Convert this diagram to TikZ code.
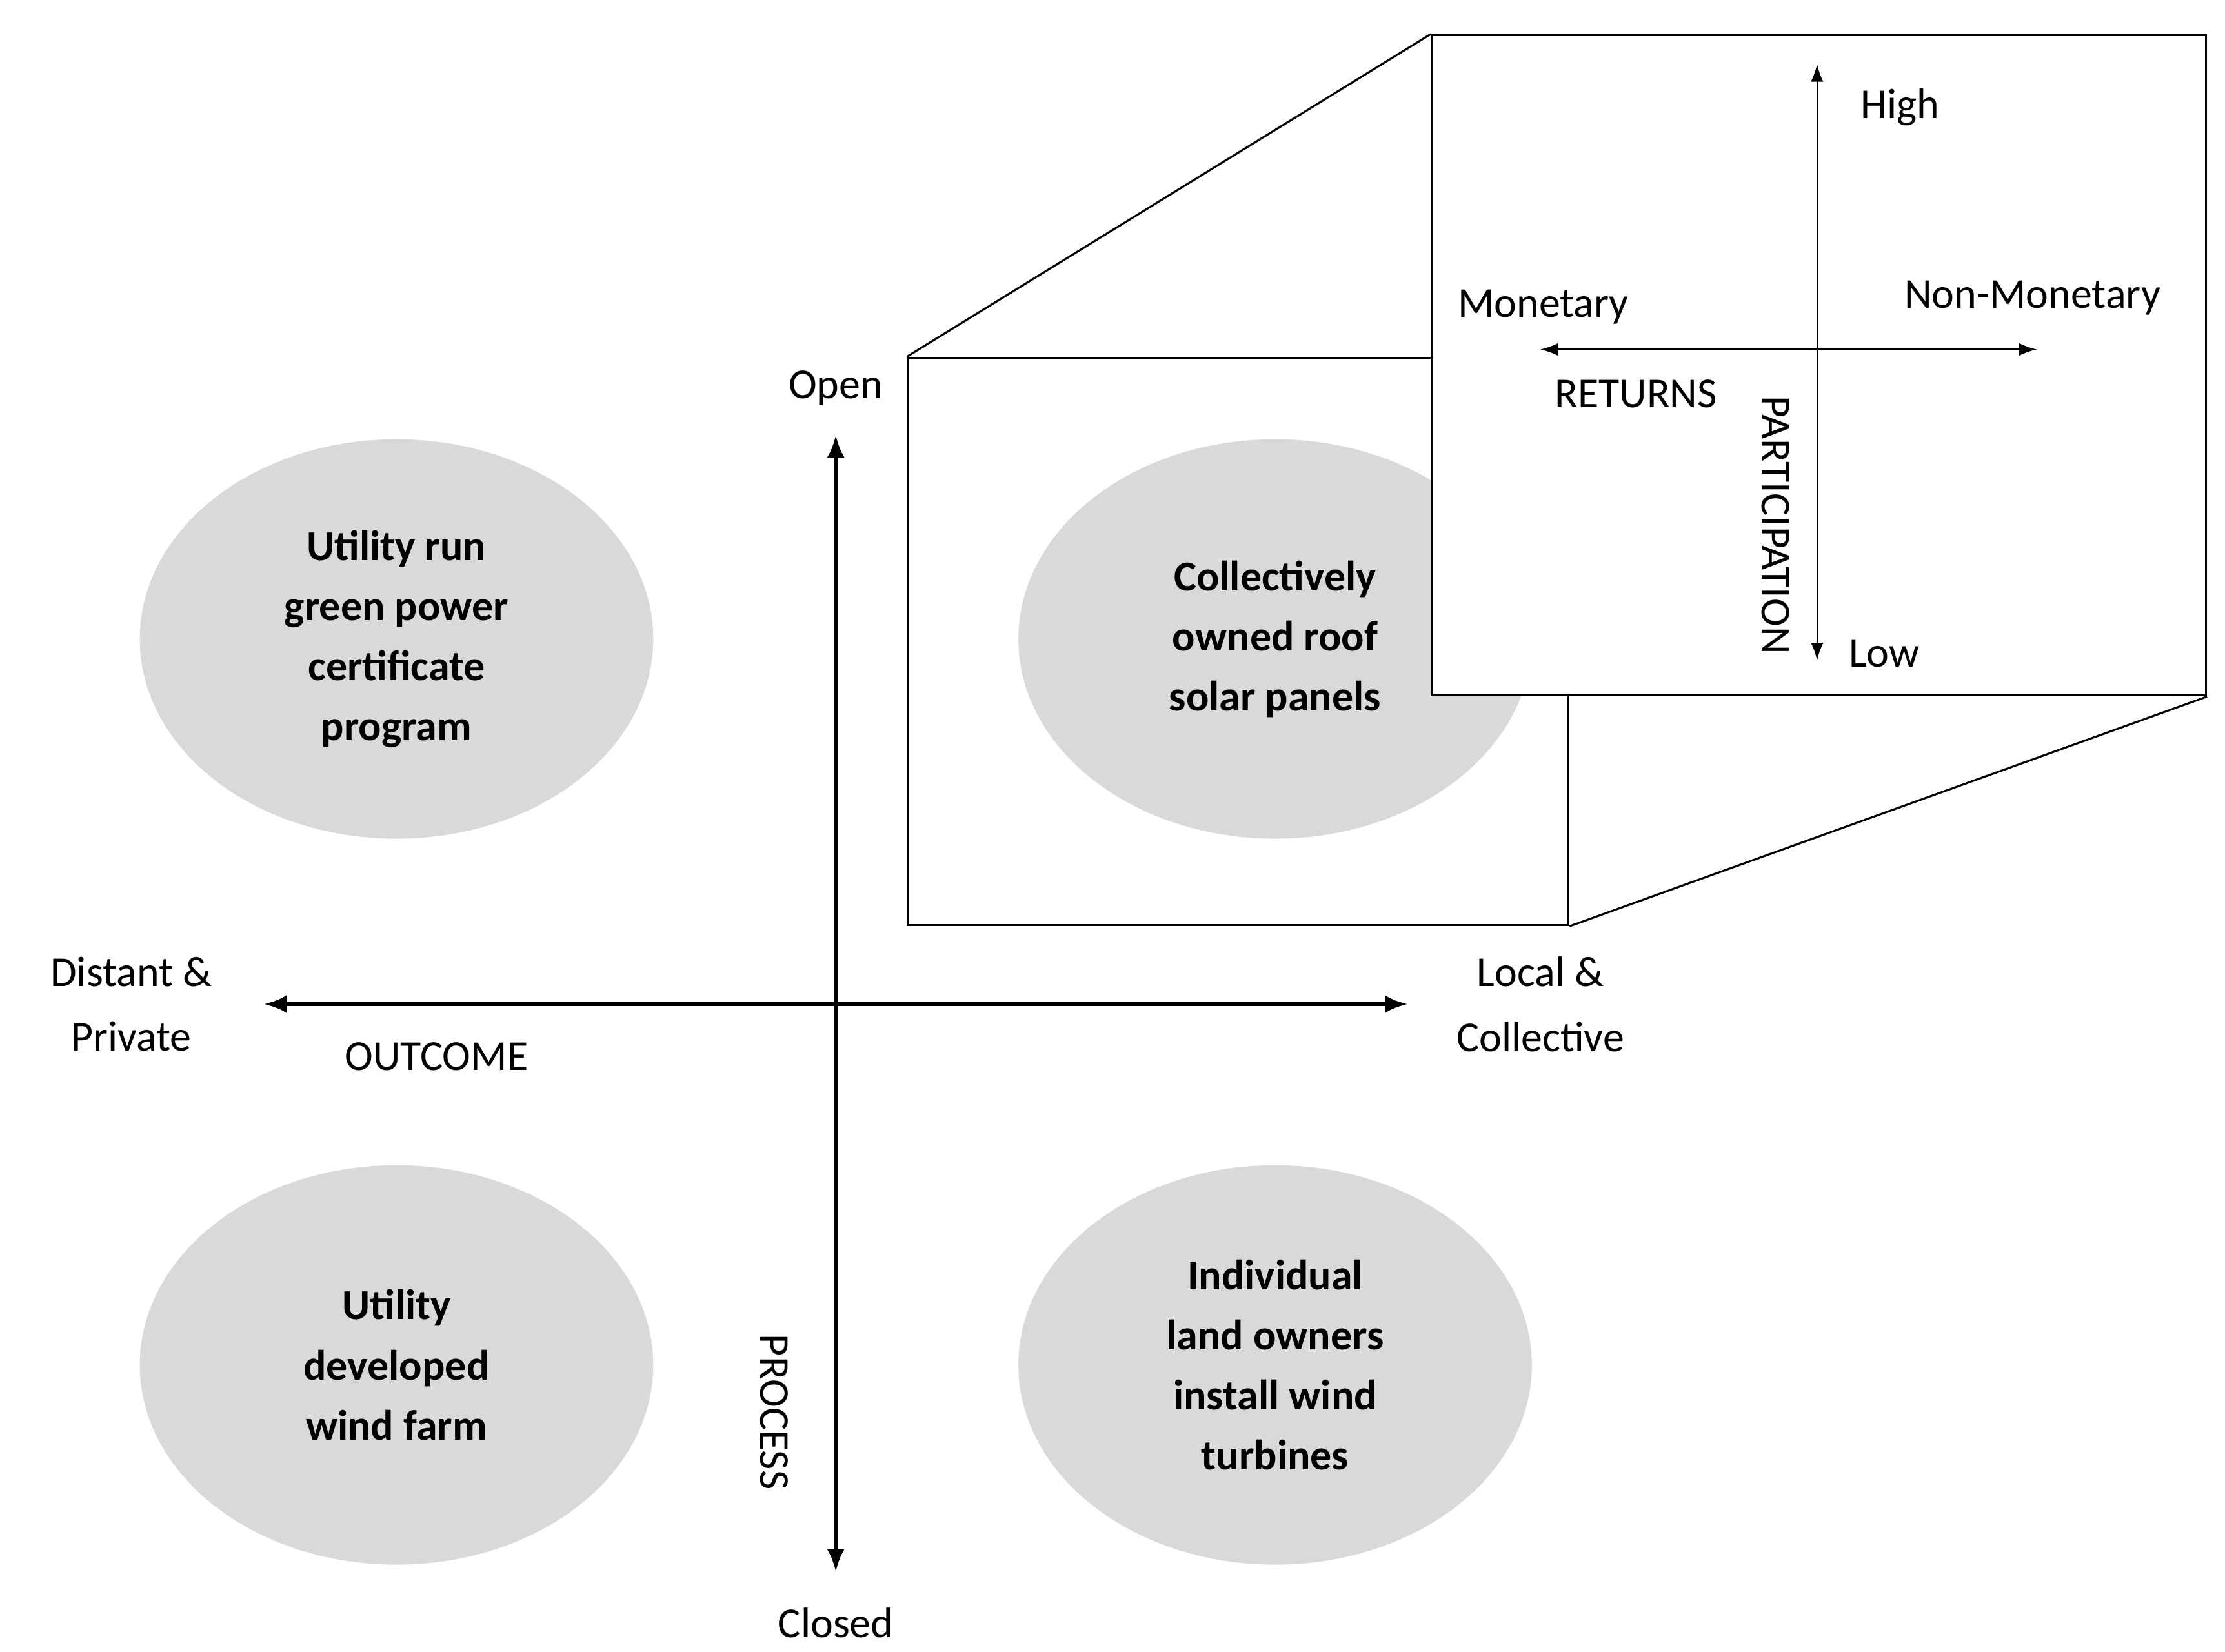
\documentclass[tikz,border=0pt]{standalone}
\usepackage{fontspec}
\setmainfont{Carlito}
\begin{document}
\begin{tikzpicture}[x=0.02cm,y=-0.02cm,
  lab/.style={font=\fontsize{17}{20}\selectfont,inner sep=0pt},
  blob/.style={ellipse,fill=gray!30,minimum width=360*0.02cm,minimum height=280*0.02cm,align=center,font=\fontsize{17}{24}\selectfont\bfseries},
  thick axis/.style={line width=1.6pt,-{Latex[length=9pt,width=7pt]}},
  thin axis/.style={line width=0.6pt,-{Latex[length=7pt,width=5pt]}}]
\usetikzlibrary{shapes.geometric,arrows.meta}
\useasboundingbox (0,0) rectangle (1560,1158);
% main axes
\coordinate (c) at (586,704);
\coordinate (top) at (586,305);
\coordinate (bot) at (586,1102);
\coordinate (left) at (185,704);
\coordinate (right) at (987,704);
\draw[thick axis] (c) -- (top);
\draw[thick axis] (c) -- (bot);
\draw[thick axis] (c) -- (left);
\draw[thick axis] (c) -- (right);
% front box
\node[draw,line width=0.8pt,minimum width=463*0.02cm,minimum height=398*0.02cm,inner sep=0pt,anchor=north west] (front) at (636,250) {};
\node[blob] (e1) at (278,448) {Utility run\\green power\\certificate\\program};
\node[blob] (e2) at (894,448) {Collectively\\owned roof\\solar panels};
\node[blob] (e3) at (278,957) {Utility\\developed\\wind farm};
\node[blob] (e4) at (894,957) {Individual\\land owners\\install wind\\turbines};
% back box
\node[draw,fill=white,line width=0.8pt,minimum width=543*0.02cm,minimum height=463*0.02cm,inner sep=0pt,anchor=north west] (back) at (1003,24) {};
\draw[line width=0.8pt] (front.north west) -- (back.north west);
\draw[line width=0.8pt] (front.south east) -- (back.south east);
% inner axes
\coordinate (ic) at (1274,245);
\coordinate (it) at (1274,45);
\coordinate (ib) at (1274,463);
\coordinate (il) at (1080,245);
\coordinate (ir) at (1428,245);
\draw[thin axis] (ic) -- (it);
\draw[thin axis] (ic) -- (ib);
\draw[thin axis] (ic) -- (il);
\draw[thin axis] (ic) -- (ir);
% labels
\node[lab] (lo) at (586,272) {Open};
\node[lab] (lc) at (586,1138) {Closed};
\node[lab,rotate=-90] (lp) at (543,990) {PROCESS};
\node[lab,align=center,font=\fontsize{17}{26}\selectfont] (ld) at (92,704) {Distant \&\\Private};
\node[lab] (lout) at (306,741) {OUTCOME};
\node[lab,align=center,font=\fontsize{17}{26}\selectfont] (ll) at (1080,704) {Local \&\\Collective};
\node[lab] (lh) at (1332,75) {High};
\node[lab] (lm) at (1082,215) {Monetary};
\node[lab] (lnm) at (1425,209) {Non-Monetary};
\node[lab] (lr) at (1147,276) {RETURNS};
\node[lab,rotate=-90] (lpa) at (1245,368) {PARTICIPATION};
\node[lab] (llow) at (1321,458) {Low};
\end{tikzpicture}
\end{document}
